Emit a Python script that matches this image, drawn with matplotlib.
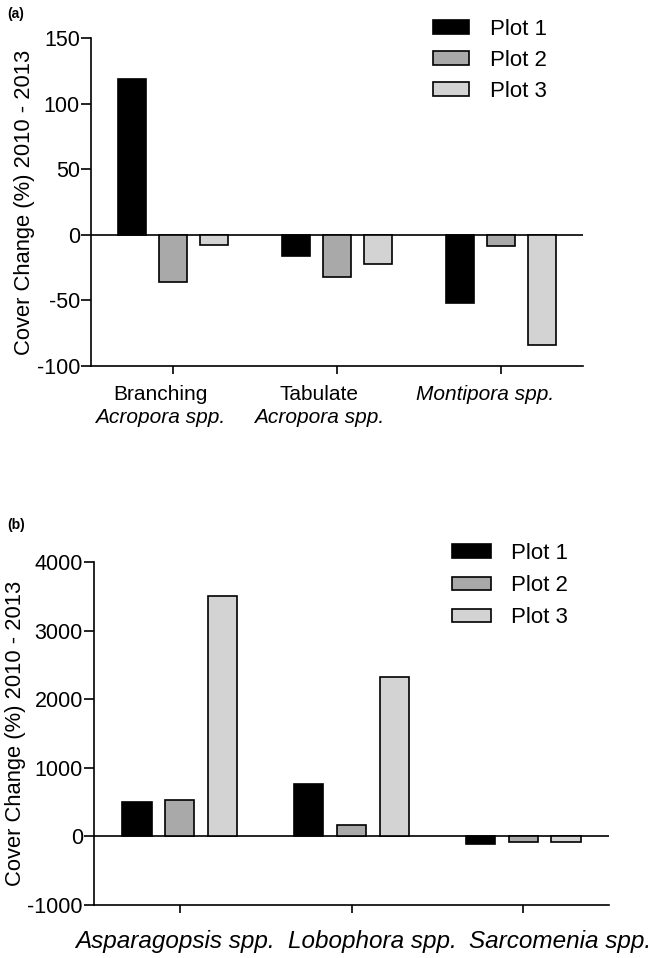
import numpy as np
import matplotlib
matplotlib.use("Agg")
import matplotlib.pyplot as plt

plt.rcParams['font.family'] = ['Liberation Sans', 'DejaVu Sans']
plt.rcParams['axes.unicode_minus'] = False

# data
plots = ["Plot 1", "Plot 2", "Plot 3"]
colors = ["#000000", "#a9a9a9", "#d3d3d3"]

coral_line1 = ["Branching", "Tabulate", "Montipora spp."]
coral_line2 = ["Acropora spp.", "Acropora spp.", ""]
coral_italic1 = [False, False, True]
coral_vals = [
    [119, -16.5, -52],   # Plot 1
    [-36, -32, -8.5],    # Plot 2
    [-8, -22, -84],      # Plot 3
]

algae = ["Asparagopsis spp.", "Lobophora spp.", "Sarcomenia spp."]
algae_vals = [
    [500, 760, -110],    # Plot 1
    [535, 165, -80],     # Plot 2
    [3500, 2325, -75],   # Plot 3
]

fig = plt.figure(figsize=(6.5, 9.58), dpi=100)
W, H = 650, 958

def make_ax(l, t, r, b):
    return fig.add_axes([l / W, 1 - b / H, (r - l) / W, (b - t) / H])

ax1 = make_ax(91, 38, 583, 366)
ax2 = make_ax(94, 562, 609, 905)

x = np.arange(3)
step = 0.25
width = 0.17

def style(ax, ylim, yticks):
    ax.set_xlim(-0.5, 2.5)
    ax.set_ylim(*ylim)
    ax.set_yticks(yticks)
    ax.set_xticks(x)
    ax.set_xticklabels([])
    for s in ["top", "right"]:
        ax.spines[s].set_visible(False)
    for s in ["left", "bottom"]:
        ax.spines[s].set_linewidth(1.2)
    ax.tick_params(axis="y", length=7, width=1.2, labelsize=15.5, pad=1)
    ax.tick_params(axis="x", length=6, width=1.2)
    ax.axhline(0, color="black", lw=1.2, zorder=1)
    ax.set_ylabel("Cover Change (%) 2010 - 2013", fontsize=15.8, labelpad=1)

for i in range(3):
    ax1.bar(x + (i - 1) * step, coral_vals[i], width, color=colors[i],
            edgecolor="black", linewidth=1.2, label=plots[i], zorder=2)
    ax2.bar(x + (i - 1) * step, algae_vals[i], width, color=colors[i],
            edgecolor="black", linewidth=1.2, label=plots[i], zorder=2)

style(ax1, (-100, 150), [-100, -50, 0, 50, 100, 150])
style(ax2, (-1000, 4000), [-1000, 0, 1000, 2000, 3000, 4000])

# category labels (a)
off_a = [-13, -18, -16]
for i in range(3):
    ax1.annotate(coral_line1[i], xy=(x[i], 0), xycoords=("data", "axes fraction"),
                 xytext=(off_a[i] * 0.72, -14), textcoords="offset points",
                 ha="center", va="top", fontsize=15,
                 style="italic" if coral_italic1[i] else "normal")
    if coral_line2[i]:
        ax1.annotate(coral_line2[i], xy=(x[i], 0), xycoords=("data", "axes fraction"),
                     xytext=(off_a[i] * 0.72, -30), textcoords="offset points",
                     ha="center", va="top", fontsize=15, style="italic")

# category labels (b)
off_b = [-5, 21, 37]
for i in range(3):
    ax2.annotate(algae[i], xy=(x[i], 0), xycoords=("data", "axes fraction"),
                 xytext=(off_b[i] * 0.72, -18), textcoords="offset points",
                 ha="center", va="top", fontsize=17.5, style="italic")

ax1.legend(frameon=False, fontsize=16, loc="upper left",
           bbox_to_anchor=(433 / W, 1 - 19 / H), bbox_transform=fig.transFigure,
           borderpad=0, borderaxespad=0, handlelength=1.6, handleheight=0.55,
           handletextpad=0.95, labelspacing=0.45)
ax2.legend(frameon=False, fontsize=16, loc="upper left",
           bbox_to_anchor=(452 / W, 1 - 543 / H), bbox_transform=fig.transFigure,
           borderpad=0, borderaxespad=0, handlelength=1.75, handleheight=0.55,
           handletextpad=0.9, labelspacing=0.5)

fig.text(7 / W, 1 - 14 / H, "(a)", fontsize=10, fontweight="bold", va="center")
fig.text(7 / W, 1 - 525 / H, "(b)", fontsize=10, fontweight="bold", va="center")

fig.savefig("out.png", dpi=100)
